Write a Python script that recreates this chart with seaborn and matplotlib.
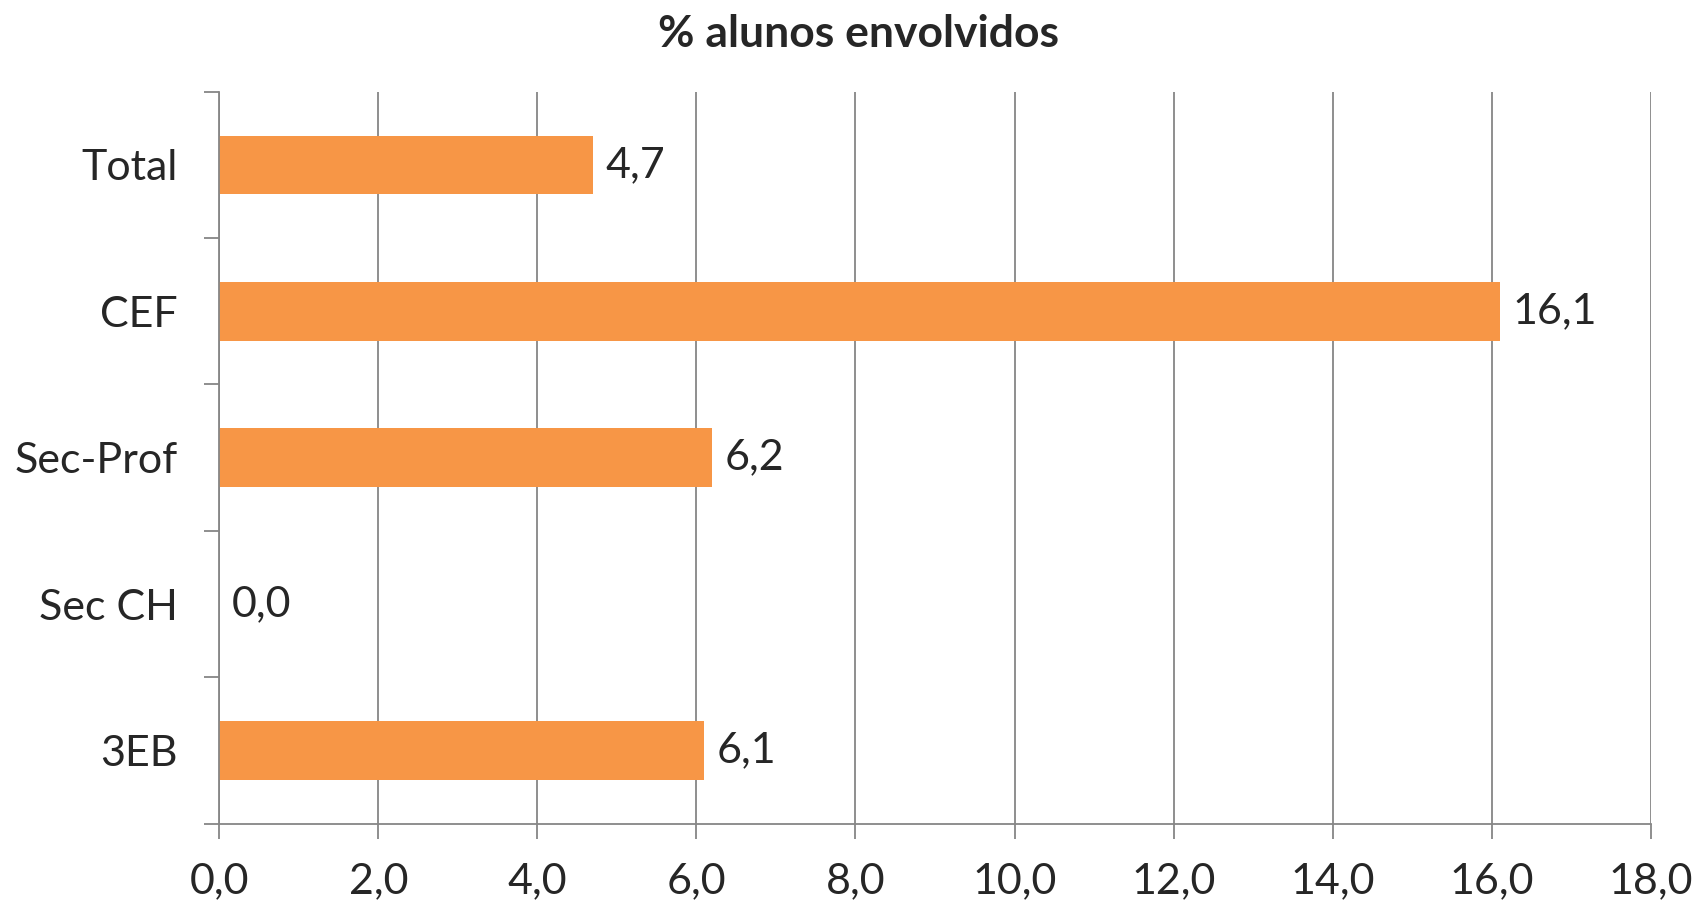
import matplotlib
matplotlib.use("Agg")
import matplotlib.pyplot as plt
import matplotlib.ticker as mticker
import seaborn as sns
import pandas as pd

# Data
categories = ["Total", "CEF", "Sec-Prof", "Sec CH", "3EB"]
values = [4.7, 16.1, 6.2, 0.0, 6.1]
x_ticks = [0, 2, 4, 6, 8, 10, 12, 14, 16, 18]
title = "% alunos envolvidos"

df = pd.DataFrame({"categoria": categories, "valor": values})

sns.set_style("white")
plt.rcParams["font.family"] = ["Lato", "DejaVu Sans"]

grey = "#868686"
fig, ax = plt.subplots(figsize=(17, 9.08), dpi=100)
fig.subplots_adjust(left=0.129, right=0.971, top=0.899, bottom=0.093)

sns.barplot(data=df, x="valor", y="categoria", order=categories,
            color="#F79646", saturation=1, width=0.4, linewidth=0, ax=ax, zorder=3)

ax.set_xlim(0, 18)
ax.set_ylim(len(categories) - 0.5, -0.5)
ax.set_xticks(x_ticks)
ax.xaxis.set_major_formatter(mticker.FuncFormatter(lambda v, p: f"{v:.1f}".replace(".", ",")))
ax.grid(axis="x", color=grey, linewidth=1.3, zorder=0)

# category boundary ticks on y axis
ax.set_yticks([i - 0.5 for i in range(len(categories) + 1)], minor=True)
ax.tick_params(axis="y", which="major", left=False, length=0, labelsize=31, pad=30)
ax.tick_params(axis="y", which="minor", left=True, length=11, width=1.3,
               color=grey, direction="out")
ax.tick_params(axis="x", which="major", bottom=True, length=11, width=1.3, color=grey,
               direction="out", labelsize=31, pad=17)

for s in ["top", "right"]:
    ax.spines[s].set_visible(False)
for s in ["left", "bottom"]:
    ax.spines[s].set_color(grey)
    ax.spines[s].set_linewidth(1.3)
    ax.spines[s].set_zorder(4)

# data labels
for i, v in enumerate(values):
    ax.annotate(f"{v:.1f}".replace(".", ","), (v, i), xytext=(9, 0),
                textcoords="offset points", va="center", ha="left", fontsize=31)

ax.set_xlabel("")
ax.set_ylabel("")
fig.suptitle(title, x=0.505, y=0.963, va="center", fontsize=32, fontweight="bold")

fig.savefig("out.png", dpi=100)
